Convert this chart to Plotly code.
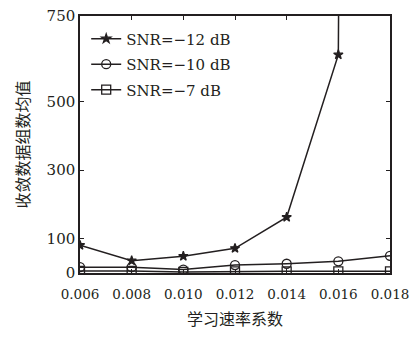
import plotly.graph_objects as go

rates = [0.006, 0.008, 0.010, 0.012, 0.014, 0.016, 0.018]
snr_m12 = [81, 36, 49, 72, 163, 637, 25000]
snr_m10 = [17, 17, 10, 23, 27, 34, 50]
snr_m7 = [6, 6, 3, 5, 5, 5, 5]
names = ["SNR=−12 dB", "SNR=−10 dB", "SNR=−7 dB"]
y_ticks = [0, 100, 300, 500, 750]
x_ticks = rates

col = "#231f20"
serif = "DejaVu Serif"
cjk = "Noto Sans CJK SC"

fig = go.Figure()
series = [(snr_m12, "star", 7), (snr_m10, "circle-open", 9), (snr_m7, "square-open", 9)]
for i, ((vals, sym, sz), nm) in enumerate(zip(series, names)):
    fig.add_trace(go.Scatter(
        x=rates, y=vals, mode="lines+markers", name=nm, legendgroup=f"g{i}",
        line=dict(color=col, width=1.5),
        marker=dict(symbol=sym, size=sz, color=col, line=dict(color=col, width=1.3)),
        cliponaxis=True,
    ))

fig.update_layout(
    width=402, height=322,
    margin=dict(l=72, r=20, t=8, b=57, autoexpand=False),
    plot_bgcolor="white", paper_bgcolor="white",
    font=dict(family=serif, size=15, color=col),
    showlegend=True,
    legend=dict(x=0.02, y=0.975, xanchor="left", yanchor="top",
                bgcolor="rgba(0,0,0,0)", borderwidth=0,
                font=dict(family=serif, size=15, color=col),
                tracegroupgap=3, itemwidth=30),
)
fig.update_xaxes(
    range=[0.006, 0.018], tickvals=x_ticks,
    ticktext=[f"{v:.3f}" for v in x_ticks],
    tickfont=dict(family=serif, size=13.5, color=col),
    ticklabelstandoff=8, automargin=False, ticklabeloverflow="allow",
    showgrid=False, zeroline=False,
    showline=True, linecolor=col, linewidth=1.5, mirror="ticks",
    ticks="inside", ticklen=4, tickcolor=col,
    title=dict(text="学习速率系数", font=dict(family=cjk, size=16, color=col), standoff=15),
)
fig.update_yaxes(
    range=[0, 750], tickvals=y_ticks,
    tickfont=dict(family=serif, size=15, color=col),
    automargin=False, ticklabeloverflow="allow",
    showgrid=False, zeroline=False,
    showline=True, linecolor=col, linewidth=1.5, mirror="ticks",
    ticks="inside", ticklen=4, tickcolor=col,
    title=dict(text="收敛数据组数均值", font=dict(family=cjk, size=16, color=col), standoff=13),
)
fig.write_html("out.html")
